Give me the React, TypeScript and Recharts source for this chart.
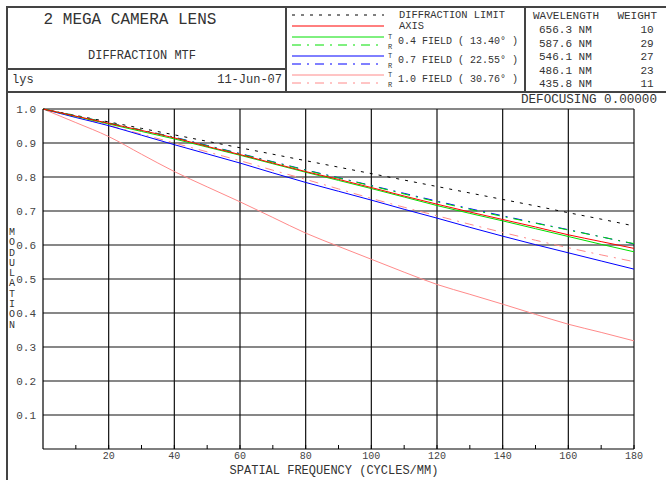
import React from 'react';
import { LineChart, Line, XAxis, YAxis, CartesianGrid } from 'recharts';

// spatial frequency (cycles/mm)
const FREQ = [0, 10, 20, 30, 40, 50, 60, 70, 80, 90, 100, 110, 120, 130, 140, 150, 160, 170, 180];
// MTF per field
const DIFF_LIMIT = [1, 0.981, 0.962, 0.943, 0.924, 0.905, 0.886, 0.867, 0.848, 0.829, 0.81, 0.791, 0.772, 0.753, 0.734, 0.715, 0.695, 0.676, 0.656];
const AXIS = [1, 0.979, 0.958, 0.937, 0.915, 0.89, 0.866, 0.841, 0.816, 0.793, 0.769, 0.744, 0.72, 0.697, 0.675, 0.653, 0.63, 0.61, 0.59];
const F04_T = [1, 0.978, 0.956, 0.934, 0.912, 0.888, 0.864, 0.839, 0.814, 0.79, 0.766, 0.741, 0.716, 0.693, 0.671, 0.648, 0.625, 0.602, 0.58];
const F04_R = [1, 0.98, 0.959, 0.938, 0.916, 0.892, 0.868, 0.844, 0.82, 0.797, 0.774, 0.75, 0.727, 0.705, 0.684, 0.664, 0.644, 0.624, 0.604];
const F07_T = [1, 0.975, 0.951, 0.923, 0.895, 0.868, 0.841, 0.812, 0.784, 0.758, 0.732, 0.705, 0.679, 0.652, 0.626, 0.601, 0.577, 0.553, 0.529];
const F07_R = [1, 0.98, 0.959, 0.938, 0.917, 0.893, 0.869, 0.845, 0.821, 0.798, 0.775, 0.752, 0.729, 0.707, 0.686, 0.665, 0.645, 0.624, 0.603];
const F10_T = [1, 0.96, 0.919, 0.867, 0.816, 0.771, 0.727, 0.681, 0.635, 0.596, 0.558, 0.52, 0.484, 0.455, 0.426, 0.396, 0.367, 0.343, 0.318];
const F10_R = [1, 0.977, 0.952, 0.926, 0.9, 0.874, 0.848, 0.82, 0.793, 0.765, 0.737, 0.711, 0.686, 0.661, 0.637, 0.614, 0.592, 0.571, 0.551];

const X_TICKS = [10, 20, 30, 40, 50, 60, 70, 80, 90, 100, 110, 120, 130, 140, 150, 160, 170, 180];
const X_GRID = [20, 40, 60, 80, 100, 120, 140, 160, 180];
const Y_TICKS = [0.1, 0.2, 0.3, 0.4, 0.5, 0.6, 0.7, 0.8, 0.9, 1.0];

const WAVELENGTHS = ['656.3', '587.6', '546.1', '486.1', '435.8'];
const WEIGHTS = ['10', '29', '27', '23', '11'];

const FIELDS = ['0.4 FIELD ( 13.40\u00b0 )', '0.7 FIELD ( 22.55\u00b0 )', '1.0 FIELD ( 30.76\u00b0 )'];

const data = FREQ.map((f, i) => ({
  f,
  diff: DIFF_LIMIT[i],
  axis: AXIS[i],
  f04t: F04_T[i],
  f04r: F04_R[i],
  f07t: F07_T[i],
  f07r: F07_R[i],
  f10t: F10_T[i],
  f10r: F10_R[i],
}));

const GREEN = '#00e000';
const BLUE = '#0000ff';
const RED = '#ff0000';
const PINK = '#ff8a8a';
const DOTS = '3 6';
const DASHDOT = '9 6 2 6';

const SERIES = [
  { key: 'diff', color: '#000', dash: DOTS },
  { key: 'f10r', color: PINK, dash: DASHDOT },
  { key: 'f10t', color: PINK, dash: undefined },
  { key: 'f07r', color: BLUE, dash: DASHDOT },
  { key: 'f07t', color: BLUE, dash: undefined },
  { key: 'f04r', color: GREEN, dash: DASHDOT },
  { key: 'f04t', color: GREEN, dash: undefined },
  { key: 'axis', color: RED, dash: undefined },
];

const MONO = '"Liberation Mono", "DejaVu Sans Mono", monospace';

const T = ({ x, y, size = 11, anchor = 'start', children }: any) => {
  const tx = anchor === 'end' ? '-100%' : anchor === 'middle' ? '-50%' : '0';
  return (
    <div
      style={{
        position: 'absolute',
        left: x,
        top: y,
        transform: `translate(${tx}, -50%)`,
        fontFamily: MONO,
        fontSize: size,
        lineHeight: 1,
        whiteSpace: 'pre',
        color: '#333',
      }}
    >
      {children}
    </div>
  );
};

const line = (x: number, y: number, w: number, h: number) => (
  <div style={{ position: 'absolute', left: x, top: y, width: w, height: h, background: '#444' }} />
);

export default function App() {
  return (
    <div style={{ position: 'absolute', left: 0, top: 0, width: 666, height: 480, overflow: 'hidden', background: '#fff' }}>
      {/* frame */}
      {line(6, 6, 660, 1.5)}
      {line(6, 6, 1.5, 474)}
      {line(6, 91, 660, 1.5)}
      {line(6, 68, 280, 1.5)}
      {line(285, 6, 1.5, 86)}
      {line(524, 6, 1.5, 86)}

      {/* title block */}
      <T x={130} y={20} size={16} anchor="middle">2 MEGA CAMERA LENS</T>
      <T x={142} y={56} size={12} anchor="middle">DIFFRACTION MTF</T>
      <T x={12} y={80} size={12}>lys</T>
      <T x={282} y={80} size={12} anchor="end">11-Jun-07</T>

      {/* legend */}
      <svg style={{ position: 'absolute', left: 0, top: 0 }} width={400} height={92}>
        <line x1={292} x2={384} y1={15} y2={15} stroke="#000" strokeDasharray={DOTS} />
        <line x1={292} x2={384} y1={26} y2={26} stroke={RED} />
        <line x1={292} x2={384} y1={37} y2={37} stroke={GREEN} />
        <line x1={292} x2={384} y1={45} y2={45} stroke={GREEN} strokeDasharray={DASHDOT} />
        <line x1={292} x2={384} y1={56} y2={56} stroke={BLUE} />
        <line x1={292} x2={384} y1={64} y2={64} stroke={BLUE} strokeDasharray={DASHDOT} />
        <line x1={292} x2={384} y1={75} y2={75} stroke={PINK} />
        <line x1={292} x2={384} y1={83} y2={83} stroke={PINK} strokeDasharray={DASHDOT} />
      </svg>
      <T x={399} y={15} size={10.4}>DIFFRACTION LIMIT</T>
      <T x={399} y={26} size={10.4}>AXIS</T>
      {FIELDS.map((f, i) => (
        <React.Fragment key={f}>
          <T x={388} y={37 + i * 19} size={7}>T</T>
          <T x={388} y={47 + i * 19} size={7}>R</T>
          <T x={398} y={42 + i * 19} size={10}>{f}</T>
        </React.Fragment>
      ))}

      {/* wavelength table */}
      <T x={533} y={16} size={11}>WAVELENGTH</T>
      <T x={657} y={16} size={11} anchor="end">WEIGHT</T>
      {WAVELENGTHS.map((w, i) => (
        <React.Fragment key={w}>
          <T x={539} y={30 + i * 13.5} size={11}>{w + ' NM'}</T>
          <T x={647} y={30 + i * 13.5} size={11} anchor="middle">{WEIGHTS[i]}</T>
        </React.Fragment>
      ))}
      <T x={657} y={100} size={12.6} anchor="end">DEFOCUSING 0.00000</T>

      {/* axis titles */}
      <div style={{ position: 'absolute', left: 9, top: 228, fontFamily: MONO, fontSize: 10, color: '#333' }}>
        {'MODULATION'.split('').map((c, i) => (
          <div key={i} style={{ height: 10.3, lineHeight: '10.3px' }}>{c}</div>
        ))}
      </div>
      <T x={334} y={471} size={12} anchor="middle">SPATIAL FREQUENCY (CYCLES/MM)</T>

      <div style={{ position: 'absolute', left: 0, top: 0 }}>
        <LineChart width={666} height={480} data={data} margin={{ top: 109, right: 32, bottom: 0, left: 0 }}>
          <CartesianGrid stroke="#111" strokeWidth={1.2} verticalValues={X_GRID} horizontalValues={Y_TICKS} />
          <XAxis
            dataKey="f"
            type="number"
            domain={[0, 180]}
            ticks={X_TICKS}
            height={31}
            tickSize={-4}
            tickMargin={7}
            tickLine={{ stroke: '#000' }}
            tickFormatter={(v: number) => (v % 20 === 0 ? String(v) : '')}
            axisLine={{ stroke: '#000', strokeWidth: 1.2 }}
            tick={{ fontSize: 10, fill: '#444', fontFamily: MONO }}
          />
          <YAxis
            type="number"
            domain={[0, 1]}
            ticks={Y_TICKS}
            width={43}
            tickLine={false}
            tickSize={4}
            tickMargin={3}
            tickFormatter={(v: number) => v.toFixed(1)}
            axisLine={{ stroke: '#000', strokeWidth: 1.2 }}
            tick={{ fontSize: 11, fill: '#444', fontFamily: MONO }}
          />
          {SERIES.map((s) => (
            <Line
              key={s.key}
              dataKey={s.key}
              type="monotone"
              stroke={s.color}
              strokeWidth={1}
              strokeDasharray={s.dash}
              dot={false}
              activeDot={false}
              isAnimationActive={false}
            />
          ))}
        </LineChart>
      </div>
    </div>
  );
}
